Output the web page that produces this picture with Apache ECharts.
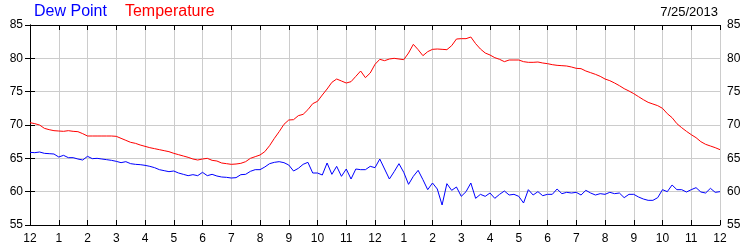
<!DOCTYPE html>
<html>
<head>
<meta charset="utf-8">
<script src="https://cdn.jsdelivr.net/npm/echarts@6/dist/echarts.min.js"></script>
<style>
html,body{margin:0;padding:0;background:#fff;}
#chart{width:750px;height:250px;}
</style>
</head>
<body>
<div id="chart"></div>
<script>
// Readings every 10 minutes, from 12 AM to 12 AM (145 samples)
var stepHours = 1 / 6;
var temperature = [
  70.35, 70.2, 70.0, 69.5, 69.3, 69.15,
  69.1, 69.05, 69.15, 69.05, 69.0, 68.7,
  68.35, 68.35, 68.35, 68.35, 68.35, 68.35,
  68.3, 68.0, 67.7, 67.4, 67.25, 67.0,
  66.8, 66.6, 66.45, 66.3, 66.15, 66.0,
  65.75, 65.55, 65.35, 65.15, 64.9, 64.75,
  64.9, 65.0, 64.7, 64.6, 64.3, 64.2,
  64.1, 64.15, 64.25, 64.5, 65.0, 65.25,
  65.5, 66.0, 66.9, 68.0, 69.0, 70.1,
  70.75, 70.8, 71.4, 71.6, 72.3, 73.2,
  73.55, 74.5, 75.4, 76.4, 76.9, 76.6,
  76.3, 76.5, 77.3, 78.1, 77.1, 77.8,
  79.1, 79.85, 79.65, 79.9, 80.0, 79.9,
  79.8, 80.8, 82.1, 81.3, 80.4, 81.0,
  81.35, 81.4, 81.35, 81.3, 81.9, 82.9,
  82.95, 82.95, 83.2, 82.2, 81.4, 80.8,
  80.5, 80.1, 79.85, 79.5, 79.75, 79.75,
  79.75, 79.5, 79.4, 79.4, 79.45, 79.3,
  79.2, 79.05, 78.95, 78.9, 78.85, 78.7,
  78.5, 78.45, 78.1, 77.85, 77.6, 77.3,
  76.9, 76.65, 76.3, 75.9, 75.45, 75.1,
  74.7, 74.25, 73.8, 73.4, 73.15, 72.9,
  72.5, 71.7, 71.1, 70.2, 69.6, 69.05,
  68.55, 68.1, 67.5, 67.1, 66.85, 66.6,
  66.3
];
var dewPoint = [
  65.9, 65.85, 65.95, 65.75, 65.7, 65.65,
  65.2, 65.45, 65.1, 65.1, 64.9, 64.75,
  65.3, 64.95, 65.0, 64.9, 64.8, 64.7,
  64.55, 64.35, 64.5, 64.2, 64.1, 64.05,
  63.95, 63.8, 63.6, 63.3, 63.15, 63.0,
  63.1, 62.8, 62.6, 62.4, 62.55, 62.4,
  62.9, 62.4, 62.6, 62.35, 62.2, 62.15,
  62.05, 62.1, 62.55, 62.6, 63.05, 63.3,
  63.3, 63.7, 64.2, 64.4, 64.5, 64.35,
  64.0, 63.1, 63.5, 64.1, 64.4, 62.8,
  62.8, 62.5, 64.3, 62.6, 63.8, 62.3,
  63.4, 61.9, 63.4, 63.3, 63.3, 63.8,
  63.6, 64.9, 63.4, 61.9, 63.0, 64.2,
  62.9, 61.1, 62.3, 63.2, 61.8, 60.3,
  61.3, 60.4, 58.0, 61.2, 60.2, 60.7,
  59.3, 60.0, 61.3, 59.0, 59.6, 59.3,
  59.8, 59.0, 59.6, 60.1, 59.5, 59.6,
  59.3, 58.3, 60.3, 59.5, 60.0, 59.4,
  59.6, 59.6, 60.4, 59.7, 59.9, 59.8,
  59.9, 59.5, 60.2, 59.8, 59.5, 59.7,
  59.6, 59.9, 59.7, 59.8, 59.1, 59.6,
  59.6, 59.2, 58.9, 58.7, 58.7, 59.1,
  60.3, 60.0, 61.0, 60.3, 60.3, 59.95,
  60.3, 60.6, 59.95, 59.8, 60.5, 59.9,
  60.0
];
var hourLabels = ['12','1','2','3','4','5','6','7','8','9','10','11','12','1','2','3','4','5','6','7','8','9','10','11','12'];
var yTicks = [55, 60, 65, 70, 75, 80, 85];
var dateText = '7/25/2013';
var seriesNames = ['Dew Point', 'Temperature'];

function pairs(arr) {
  return arr.map(function (v, i) { return [i * stepHours, v]; });
}

var chart = echarts.init(document.getElementById('chart'), null, {renderer: 'canvas'});
var font = 'Arial, "Liberation Sans", sans-serif';
var axisLineStyle = {show: true, lineStyle: {color: '#000', width: 1}};
var gridLine = {show: true, lineStyle: {color: '#cccccc', width: 1}};

var xBase = {
  type: 'value', min: 0, max: hourLabels.length - 1, interval: 1,
  axisLine: axisLineStyle,
  axisTick: {show: true, inside: true, length: 5, lineStyle: {color: '#000'}},
  splitLine: gridLine
};
var yBase = {
  type: 'value', min: yTicks[0], max: yTicks[yTicks.length - 1], interval: yTicks[1] - yTicks[0],
  axisLine: axisLineStyle,
  axisTick: {show: true, inside: true, length: 5, lineStyle: {color: '#000'}},
  splitLine: gridLine
};

chart.setOption({
  animation: false,
  backgroundColor: '#fff',
  textStyle: {fontFamily: font},
  title: {
    text: dateText, right: 32, top: 6, padding: 0,
    textStyle: {fontSize: 13, fontWeight: 'normal', color: '#000', fontFamily: font}
  },
  legend: {
    left: 28, top: 4, padding: 0, itemWidth: 0, itemHeight: 0, itemGap: 12,
    selectedMode: false,
    data: [
      {name: seriesNames[0], textStyle: {color: '#0000ff'}},
      {name: seriesNames[1], textStyle: {color: '#ff0000'}}
    ],
    textStyle: {fontSize: 16, fontFamily: font}
  },
  grid: {left: 30, right: 30, top: 25, bottom: 25, containLabel: false},
  xAxis: [
    Object.assign({}, xBase, {
      position: 'bottom',
      axisLabel: {show: true, margin: 8, fontSize: 12, color: '#000', fontFamily: font,
        formatter: function (v) { return hourLabels[Math.round(v)]; }}
    }),
    Object.assign({}, xBase, {
      position: 'top', splitLine: {show: false},
      axisLabel: {show: false}
    })
  ],
  yAxis: [
    Object.assign({}, yBase, {
      position: 'left',
      axisLabel: {show: true, margin: 7, fontSize: 12, color: '#000', fontFamily: font}
    }),
    Object.assign({}, yBase, {
      position: 'right', splitLine: {show: false},
      axisLabel: {show: true, margin: 7, fontSize: 12, color: '#000', fontFamily: font}
    })
  ],
  series: [
    {
      name: seriesNames[0], type: 'line', data: pairs(dewPoint),
      showSymbol: false, symbol: 'none', color: '#0000ff',
      lineStyle: {color: '#0000ff', width: 1}, xAxisIndex: 0, yAxisIndex: 0, z: 3
    },
    {
      name: seriesNames[1], type: 'line', data: pairs(temperature),
      showSymbol: false, symbol: 'none', color: '#ff0000',
      lineStyle: {color: '#ff0000', width: 1}, xAxisIndex: 0, yAxisIndex: 0, z: 3
    }
  ]
});
</script>
</body>
</html>
